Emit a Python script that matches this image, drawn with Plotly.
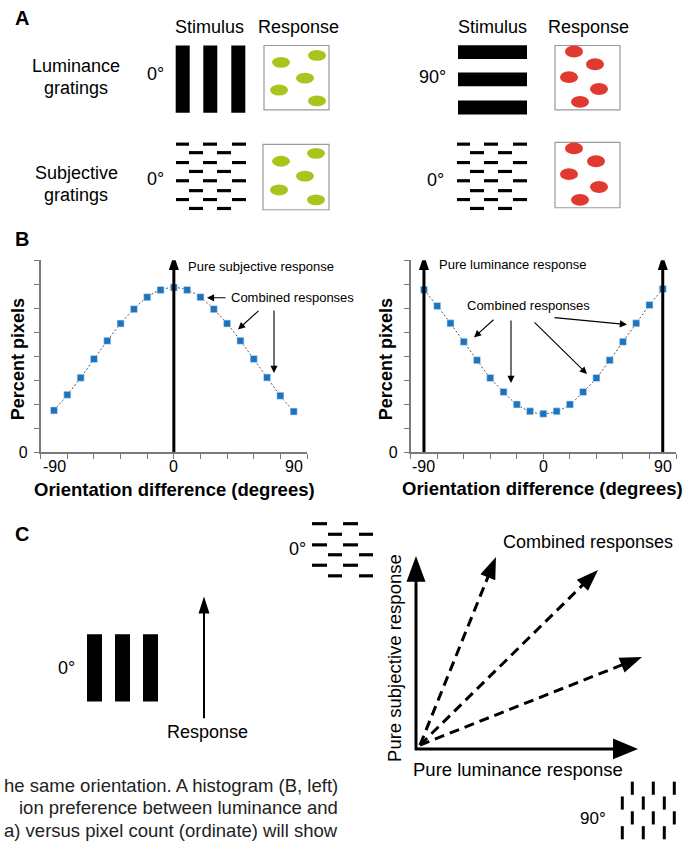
import plotly.graph_objects as go

W, H = 694, 849
FONT = "Liberation Sans, Arial, Helvetica, sans-serif"

# ---------------- data (panel B) ----------------
angles = [-90, -80, -70, -60, -50, -40, -30, -20, -10, 0, 10, 20, 30, 40, 50, 60, 70, 80, 90]
subjective_pct = [1.74, 2.39, 3.10, 3.88, 4.64, 5.36, 5.96, 6.46, 6.76, 6.86,
                  6.76, 6.46, 5.96, 5.36, 4.64, 3.88, 3.11, 2.35, 1.69]
luminance_pct = [6.77, 6.09, 5.37, 4.60, 3.83, 3.09, 2.51, 1.99, 1.70, 1.60,
                 1.70, 1.99, 2.51, 3.09, 3.83, 4.60, 5.37, 6.13, 6.80]
x_tick_labels = ["-90", "0", "90"]
x_tick_label_vals = [-90, 0, 90]
pure_subjective_angles = [0]
pure_luminance_angles = [-90, 90]
pure_response_height = [8.22]

# ---------------- helpers ----------------
def px(x):
    return x / W

def py(y):
    return 1 - y / H

shapes = []
annotations = []

def text(t, x, y, size=18, bold=False, angle=0, xanchor="center", color="black"):
    annotations.append(dict(
        text=f"<b>{t}</b>" if bold else t, x=px(x), y=py(y), xref="paper", yref="paper",
        showarrow=False, font=dict(size=size, color=color, family=FONT),
        xanchor=xanchor, yanchor="middle", textangle=angle))

def rect(x0, y0, x1, y1, fill="black", line_color=None, lw=0):
    shapes.append(dict(type="rect", xref="paper", yref="paper",
                       x0=px(x0), x1=px(x1), y0=py(y1), y1=py(y0),
                       fillcolor=fill, line=dict(width=lw, color=line_color or fill)))

def ellipse(cx, cy, w, h, color):
    shapes.append(dict(type="circle", xref="paper", yref="paper",
                       x0=px(cx - w / 2), x1=px(cx + w / 2), y0=py(cy + h / 2), y1=py(cy - h / 2),
                       fillcolor=color, line=dict(width=0)))

def seg(x0, y0, x1, y1, width=2, dash="solid", color="black"):
    shapes.append(dict(type="line", xref="paper", yref="paper",
                       x0=px(x0), y0=py(y0), x1=px(x1), y1=py(y1),
                       line=dict(width=width, dash=dash, color=color)))

def head(tipx, tipy, fromx, fromy, length, width, color="black"):
    dx, dy = tipx - fromx, tipy - fromy
    n = (dx * dx + dy * dy) ** 0.5
    ux, uy = dx / n, dy / n
    bx, by = tipx - ux * length, tipy - uy * length
    nx, ny = -uy, ux
    p1 = (bx + nx * width / 2, by + ny * width / 2)
    p2 = (bx - nx * width / 2, by - ny * width / 2)
    path = "M {:.5f},{:.5f} L {:.5f},{:.5f} L {:.5f},{:.5f} Z".format(
        px(tipx), py(tipy), px(p1[0]), py(p1[1]), px(p2[0]), py(p2[1]))
    shapes.append(dict(type="path", xref="paper", yref="paper", path=path,
                       fillcolor=color, line=dict(width=0)))

def arrow(x0, y0, x1, y1, lw, hl, hw, dash="solid"):
    dx, dy = x1 - x0, y1 - y0
    n = (dx * dx + dy * dy) ** 0.5
    ex, ey = x1 - dx / n * (hl * 0.8), y1 - dy / n * (hl * 0.8)
    seg(x0, y0, ex, ey, width=lw, dash=dash)
    head(x1, y1, x0, y0, hl, hw)

def small_arrow(tx, ty, sx, sy):
    annotations.append(dict(text="", x=px(tx), y=py(ty), xref="paper", yref="paper",
                            ax=sx - tx, ay=sy - ty, showarrow=True, arrowhead=2,
                            arrowsize=1.3, arrowwidth=1.1, arrowcolor="black", standoff=0))

GREEN = "#a9c41c"
RED = "#e0392f"
BOXC = "#9a9a9a"

# ---------------- Panel A ----------------
text("A", 22, 18, size=20, bold=True)
text("Stimulus", 209, 27)
text("Response", 298, 27)
text("Stimulus", 492, 27)
text("Response", 588, 27)

text("Luminance", 76, 67)
text("gratings", 76, 89)
text("Subjective", 76, 175)
text("gratings", 76, 197)
text("0°", 155, 75)
text("0°", 155, 181)
text("90°", 433, 78)
text("0°", 435, 182)

# vertical luminance bars (0 deg)
for x0 in (175.7, 203.3, 231.3):
    rect(x0, 46, x0 + 14, 114)
# horizontal luminance bars (90 deg)
for y0 in (45.7, 73.3, 101.7):
    rect(458, y0, 527, y0 + 14)

# subjective grating dashes
row_y = [145.7, 154.3, 164.3, 173.3, 182.7, 192.7, 201.7, 210.7]
rowA = [(176, 189), (203, 217), (232, 246)]
rowB = [(189, 203), (217, 231)]
for off in (0, 281):
    for i, yc in enumerate(row_y):
        for (a, b) in (rowA if i % 2 == 0 else rowB):
            rect(a + off, yc - 1.6, b + off, yc + 1.6)

# response boxes
rect(264, 46, 329, 111, fill="white", line_color=BOXC, lw=1.2)
rect(263, 146, 329, 212, fill="white", line_color=BOXC, lw=1.2)
rect(555, 46, 620, 111, fill="white", line_color=BOXC, lw=1.2)
rect(555, 144, 620, 210, fill="white", line_color=BOXC, lw=1.2)
for (cx, cy) in [(281, 63), (317, 56), (305, 79), (279, 91), (317, 102)]:
    ellipse(cx, cy, 18, 11, GREEN)
for (cx, cy) in [(281, 163), (316, 155), (305, 178), (279, 192), (316, 202)]:
    ellipse(cx, cy, 18, 11, GREEN)
for (cx, cy) in [(574, 52), (595, 65), (569, 78), (599, 90), (580, 103)]:
    ellipse(cx, cy, 18, 12, RED)
for (cx, cy) in [(574, 150), (596, 163), (569, 176), (599, 189), (580, 202)]:
    ellipse(cx, cy, 18, 12, RED)

# ---------------- Panel B ----------------
text("B", 22, 242, size=20, bold=True)
AX = "#7a7a7a"
fig = go.Figure()
fig.add_trace(go.Scatter(x=angles, y=subjective_pct, mode="lines+markers", xaxis="x", yaxis="y",
                         line=dict(color="#555555", width=1, dash="2px,2px", shape="spline"),
                         marker=dict(symbol="square", size=7, color="#1b74bd",
                                     line=dict(color="#cfe3f3", width=0.6)),
                         showlegend=False, hoverinfo="skip"))
fig.add_trace(go.Scatter(x=angles, y=luminance_pct, mode="lines+markers", xaxis="x2", yaxis="y2",
                         line=dict(color="#555555", width=1, dash="2px,2px", shape="spline"),
                         marker=dict(symbol="square", size=7, color="#1b74bd",
                                     line=dict(color="#cfe3f3", width=0.6)),
                         showlegend=False, hoverinfo="skip"))

# pure-response arrows tied to the data axes
for xa, ya, angs in (("x", "y", pure_subjective_angles), ("x2", "y2", pure_luminance_angles)):
    for a in angs:
        shapes.append(dict(type="line", xref=xa, yref=ya, x0=a, x1=a, y0=0,
                           y1=pure_response_height[0] - 0.3,
                           line=dict(color="black", width=3)))
        shapes.append(dict(type="path", xref=xa, yref=ya, xsizemode="pixel", ysizemode="pixel",
                           xanchor=a, yanchor=pure_response_height[0],
                           path="M -5,-15 L 5,-15 L 0,0 Z", fillcolor="black",
                           line=dict(width=0)))

# x tick labels
for xa in ("x", "x2"):
    for v, lab in zip(x_tick_label_vals, x_tick_labels):
        annotations.append(dict(text=lab, x=v, y=py(471), xref=xa, yref="paper", showarrow=False,
                                font=dict(size=16, family=FONT, color="black"),
                                xanchor="center", yanchor="middle"))

# axis titles
text("Percent pixels", 18, 363, size=18, bold=True, angle=-90)
text("Percent pixels", 386, 363, size=18, bold=True, angle=-90)
text("Orientation difference (degrees)", 174, 495, size=18.5, bold=True)
text("Orientation difference (degrees)", 542, 494, size=18.5, bold=True)

# B annotations
text("Pure subjective response", 186, 269, size=13, xanchor="left")
text("Combined responses", 229, 301, size=13, xanchor="left")
small_arrow(207, 301, 227, 301)
small_arrow(238, 333, 260, 313)
small_arrow(274, 377, 274, 313)

text("Pure luminance response", 437, 267, size=13, xanchor="left")
text("Combined responses", 465, 309, size=13, xanchor="left")
small_arrow(474, 341, 495, 322)
small_arrow(511, 387, 511, 323)
small_arrow(587, 378, 533, 325)
small_arrow(627, 328, 553, 321)

# ---------------- Panel C ----------------
text("C", 22, 540, size=20, bold=True)
for x0 in (87, 115, 143):
    rect(x0, 641, x0 + 15, 709)
text("0°", 66, 675)
arrow(204, 726, 204, 603, lw=2, hl=17, hw=11)
text("Response", 207, 740)

text("0°", 297, 555)
c_rows = [529.3, 540, 550.7, 560.7, 571.3, 582]
c_rowA = [(312, 327), (343, 358)]
c_rowB = [(328, 342), (359, 373)]
for i, yc in enumerate(c_rows):
    for (a, b) in (c_rowA if i % 2 == 0 else c_rowB):
        rect(a, yc - 1.6, b, yc + 1.6)

# axes of response space
arrow(416, 758, 416, 562, lw=3, hl=26, hw=19)
arrow(415, 757, 638, 757, lw=3, hl=25, hw=21)
# combined response vectors
for (tx, ty) in [(496, 563), (598, 576), (642, 664)]:
    arrow(420, 753, tx, ty, lw=3, hl=22, hw=16, dash="10px,6px")

text("Pure subjective response", 395, 665, size=18.5, angle=-90)
text("Combined responses", 588, 548, size=18)
text("Pure luminance response", 518, 778, size=18.5)
text("90°", 593, 827, size=17)
colA = [632.3, 653.3, 674.3]
colB = [622.3, 643.3, 664.3]
v_rows = [(790, 803.3), (805, 818.3), (820, 833.3), (835, 848.3)]
for i, (y0, y1) in enumerate(v_rows):
    for xc in (colA if i % 2 == 0 else colB):
        rect(xc - 1.5, y0, xc + 1.5, y1)

# caption fragment
for yc, line in [(794, "he same orientation. A histogram (B, left)"),
                 (816, "ion preference between luminance and"),
                 (839, "a) versus pixel count (ordinate) will show")]:
    text(line, 340, yc, size=18.5, xanchor="right", color="#222222")

axis_common = dict(showline=True, linecolor=AX, linewidth=1.5, ticks="outside", ticklen=5,
                   tickwidth=1.2, tickcolor=AX, showgrid=False, zeroline=False, fixedrange=True)
fig.update_layout(
    width=W, height=H, autosize=False,
    margin=dict(l=0, r=0, t=0, b=0, pad=0),
    paper_bgcolor="white", plot_bgcolor="white",
    font=dict(family=FONT, color="black"),
    showlegend=False,
    xaxis=dict(domain=[px(40.7), px(307)], range=[-100, 100], anchor="y",
               tickvals=list(range(-100, 101, 20)), showticklabels=False, **axis_common),
    yaxis=dict(domain=[py(457), py(263)], range=[0, 8], anchor="x",
               tickvals=list(range(0, 9)), ticktext=["0"] + [""] * 8,
               tickfont=dict(size=16, family=FONT, color="black"), ticklabelstandoff=3, **axis_common),
    xaxis2=dict(domain=[px(410.7), px(676)], range=[-100, 100], anchor="y2",
                tickvals=list(range(-100, 101, 20)), showticklabels=False, **axis_common),
    yaxis2=dict(domain=[py(457), py(263)], range=[0, 8], anchor="x2",
                tickvals=list(range(0, 9)), ticktext=["0"] + [""] * 8,
                tickfont=dict(size=16, family=FONT, color="black"), ticklabelstandoff=3, **axis_common),
    shapes=shapes,
    annotations=annotations,
)
fig.write_html("out.html", config={"displayModeBar": False},
               post_script="document.body.style.margin='0';document.body.style.overflow='hidden';")
